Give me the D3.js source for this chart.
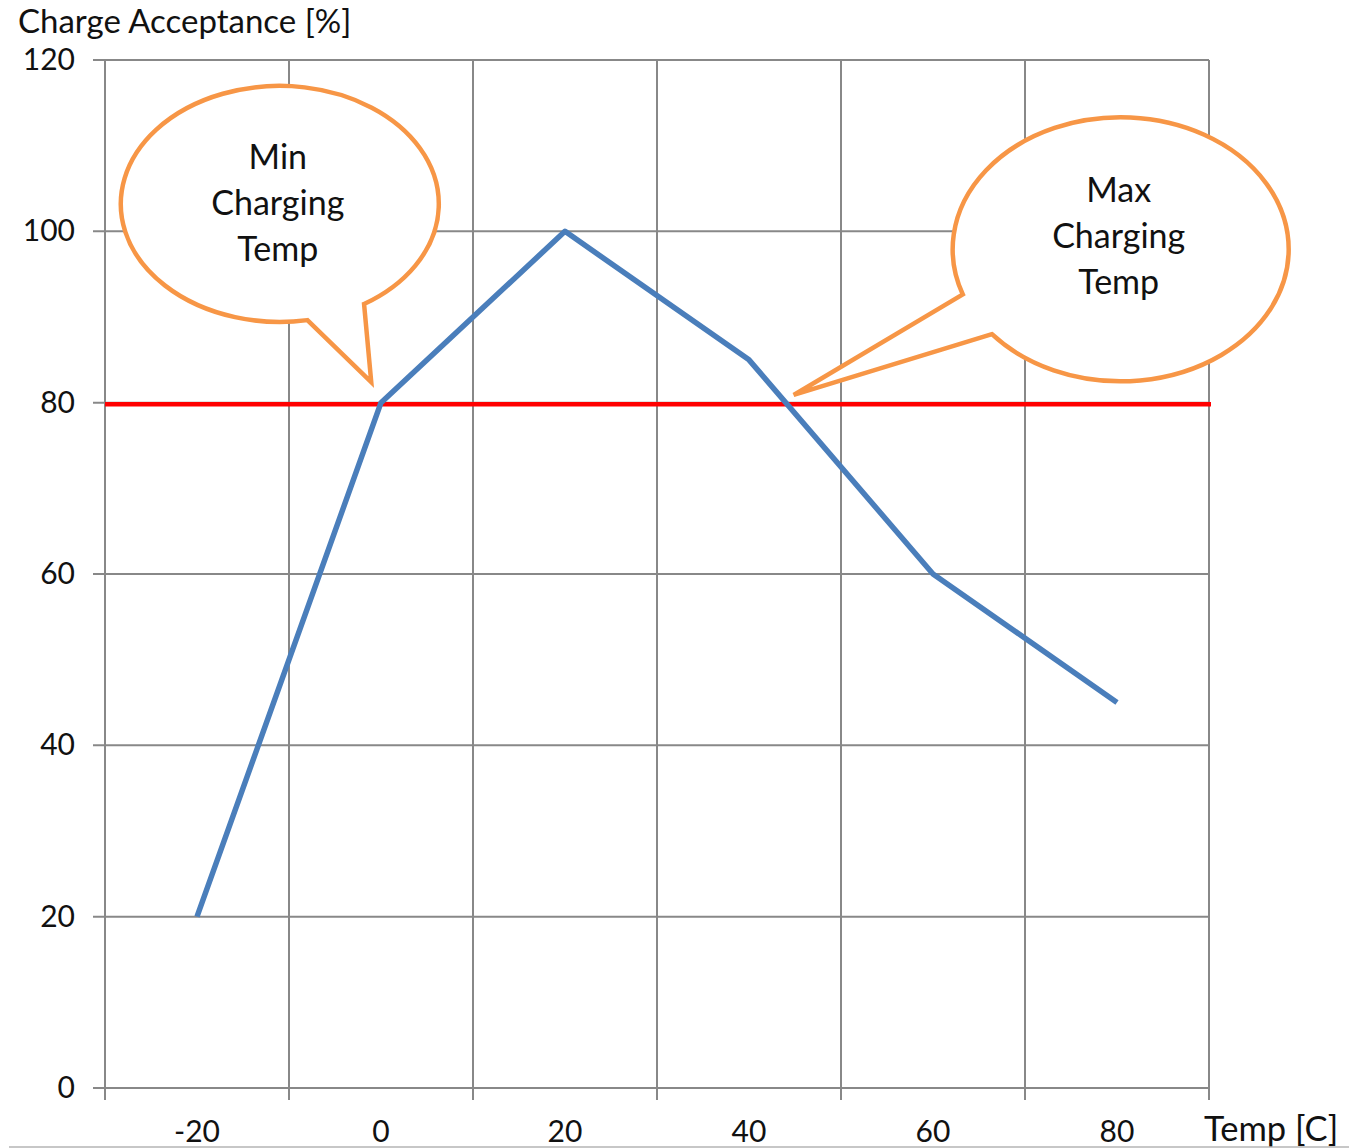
<!DOCTYPE html>
<html>
<head>
<meta charset="utf-8">
<script src="https://cdn.jsdelivr.net/npm/d3@7/dist/d3.min.js"></script>
<style>
  html, body { margin: 0; padding: 0; background: #fff; }
  svg { display: block; }
  text { font-family: "Lato", "Open Sans", sans-serif; fill: #111; }
</style>
</head>
<body>
<svg id="chart" width="1349" height="1148"></svg>
<script>
// Temperature categories and charge acceptance (%) at each
const temps = [-20, 0, 20, 40, 60, 80];
const acceptance = [20, 80, 100, 85, 60, 45];
const yTicks = [0, 20, 40, 60, 80, 100, 120];
const threshold = 80;

// Speech-bubble callouts: ellipse centre and tail tip in data units
// (x as category index, y as percent)
const calloutNames = ["min", "max"];
const calloutLines = [["Min", "Charging", "Temp"], ["Max", "Charging", "Temp"]];
const calloutCentre = [[0.45, 103.2], [5.02, 97.9]];
const calloutTip = [[0.947, 82.4], [3.243, 80.9]];

const svg = d3.select("#chart");
const margin = { left: 105, right: 140, top: 60, bottom: 60 };
const W = 1349, H = 1148;
const plotW = 1209 - margin.left;
const plotH = 1088 - margin.top;

const x = d3.scaleBand().domain(temps).range([margin.left, margin.left + plotW]).paddingInner(0).paddingOuter(0);
const xi = d3.scaleLinear().domain([0, temps.length - 1])
  .range([x(temps[0]) + x.bandwidth() / 2, x(temps[temps.length - 1]) + x.bandwidth() / 2]);
const y = d3.scaleLinear().domain([0, 120]).range([margin.top + plotH, margin.top]);

const gridColor = "#888888";

// Horizontal gridlines
svg.append("g").selectAll("line").data(yTicks).join("line")
  .attr("x1", margin.left - 12).attr("x2", margin.left + plotW)
  .attr("y1", d => y(d)).attr("y2", d => y(d))
  .attr("stroke", gridColor).attr("stroke-width", 2);

// Vertical gridlines at category boundaries (with tick stubs below the axis)
const bounds = temps.map(t => x(t)).concat([margin.left + plotW]);
svg.append("g").selectAll("line").data(bounds).join("line")
  .attr("x1", d => d).attr("x2", d => d)
  .attr("y1", margin.top).attr("y2", margin.top + plotH + 12)
  .attr("stroke", gridColor).attr("stroke-width", 2);

// Y tick labels
svg.append("g").selectAll("text").data(yTicks).join("text")
  .attr("x", 75).attr("y", d => y(d) + 10)
  .attr("text-anchor", "end").attr("font-size", 30)
  .text(d => d);

// X tick labels
svg.append("g").selectAll("text").data(temps).join("text")
  .attr("x", d => x(d) + x.bandwidth() / 2).attr("y", 1142)
  .attr("text-anchor", "middle").attr("font-size", 30)
  .text(d => d);

// Axis titles
svg.append("text").attr("x", 18).attr("y", 33).attr("font-size", 33).text("Charge Acceptance [%]");
svg.append("text").attr("x", 1204).attr("y", 1141).attr("font-size", 34.5).text("Temp [C]");

// Threshold line
svg.append("line")
  .attr("x1", margin.left).attr("x2", margin.left + plotW + 2)
  .attr("y1", y(threshold) + 1.5).attr("y2", y(threshold) + 1.5)
  .attr("stroke", "#ff0000").attr("stroke-width", 4.5);

// Data series
const line = d3.line().x((d, i) => xi(i)).y(d => y(d));
svg.append("path").datum(acceptance)
  .attr("d", line)
  .attr("fill", "none").attr("stroke", "#4a7ebb").attr("stroke-width", 5.5)
  .attr("stroke-linejoin", "round");

// Callout bubbles
const rx = [159, 168], ry = [118, 132];
// tail base angles (degrees, from centre) where the tail leaves the ellipse
const tailAngles = [[80, 58], [140, 160]];
const textShift = [0, -12];
calloutNames.forEach((name, k) => {
  const cx = xi(calloutCentre[k][0]), cy = y(calloutCentre[k][1]);
  const tx = xi(calloutTip[k][0]), ty = y(calloutTip[k][1]);
  const [a1, a2] = tailAngles[k].map(a => a * Math.PI / 180);
  const pt = a => [cx + rx[k] * Math.cos(a), cy + ry[k] * Math.sin(a)];
  const p1 = pt(a1), p2 = pt(a2);
  // tail out to the tip, then the long way round the ellipse back to start
  const sweep = a1 > a2 ? 0 : 1;
  const d = `M${p1[0]},${p1[1]} L${tx},${ty} L${p2[0]},${p2[1]} ` +
            `A${rx[k]},${ry[k]} 0 1 ${sweep} ${p1[0]},${p1[1]} Z`;
  const g = svg.append("g").attr("class", "callout-" + name);
  g.append("path").attr("d", d)
    .attr("fill", "#fff").attr("stroke", "#f79646").attr("stroke-width", 4.5)
    .attr("stroke-linejoin", "miter");
  g.selectAll("text").data(calloutLines[k]).join("text")
    .attr("x", cx - 2)
    .attr("y", (dd, i) => cy + textShift[k] + (i - 1) * 46 + 11)
    .attr("text-anchor", "middle").attr("font-size", 34)
    .text(dd => dd);
});

// Bottom frame edge
svg.append("line").attr("x1", 9).attr("x2", W).attr("y1", 1147).attr("y2", 1147)
  .attr("stroke", "#b5b5b5").attr("stroke-width", 1.5);
</script>
</body>
</html>
